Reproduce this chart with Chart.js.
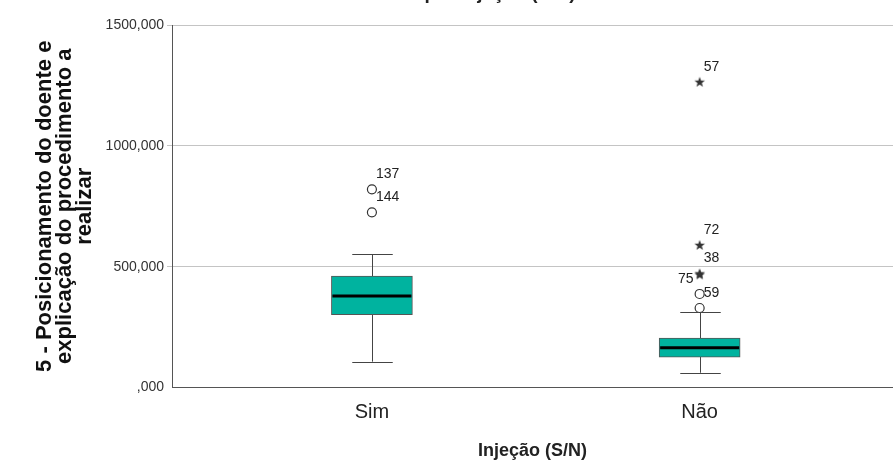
<!DOCTYPE html>
<html>
<head>
<meta charset="utf-8">
<script src="https://cdn.jsdelivr.net/npm/chart.js@4/dist/chart.umd.min.js"></script>
<style>
  html, body { margin: 0; padding: 0; background: #fff; }
</style>
</head>
<body>
<canvas id="myChart" width="893" height="468"></canvas>
<script>
// box plot summary per category
var categories = ['Sim', 'Não'];
var lowerWhisker = [107, 61];
var q1 = [301, 125];
var medians = [379, 165];
var q3 = [461, 204];
var upperWhisker = [552, 314];

// outliers (o) and extremes (*)
var circleCat = [0, 0, 1, 1];
var circleVal = [820, 725, 387, 329];
var circleId = ['137', '144', '', '59'];

var starCat = [1, 1, 1, 1];
var starVal = [1265, 590, 472, 468];
var starId = ['57', '72', '38', '75'];

var yTicks = [0, 500, 1000, 1500];

var yTitle = ['5 - Posicionamento do doente e', 'explicação do procedimento a', 'realizar'];
var xTitle = 'Injeção (S/N)';
var topTitle = 'por Injeção (S/N)';

Chart.defaults.font.family = '"Liberation Sans", Arial, sans-serif';

// small filled star used for the extreme values
function makeStar() {
  var c = document.createElement('canvas');
  c.width = 12; c.height = 12;
  var g = c.getContext('2d');
  g.fillStyle = '#333';
  g.beginPath();
  for (var k = 0; k < 10; k++) {
    var r = k % 2 === 0 ? 5.5 : 2.3;
    var a = -Math.PI / 2 + k * Math.PI / 5;
    var px = 6 + r * Math.cos(a), py = 6.5 + r * Math.sin(a);
    if (k === 0) g.moveTo(px, py); else g.lineTo(px, py);
  }
  g.closePath();
  g.fill();
  return c;
}

var boxParts = {
  id: 'boxParts',
  beforeDatasetsDraw: function(chart) {
    var ctx = chart.ctx, y = chart.scales.y;
    var bars = chart.getDatasetMeta(0).data;
    ctx.save();
    ctx.strokeStyle = '#444';
    ctx.lineWidth = 1;
    bars.forEach(function(bar, i) {
      var cx = Math.round(bar.x) + 0.5;
      var lo = y.getPixelForValue(lowerWhisker[i]);
      var hi = y.getPixelForValue(upperWhisker[i]);
      var cap = bar.width / 4;
      ctx.beginPath();
      ctx.moveTo(cx, lo); ctx.lineTo(cx, hi);
      ctx.moveTo(cx - cap, Math.round(lo) + 0.5); ctx.lineTo(cx + cap, Math.round(lo) + 0.5);
      ctx.moveTo(cx - cap, Math.round(hi) + 0.5); ctx.lineTo(cx + cap, Math.round(hi) + 0.5);
      ctx.stroke();
    });
    ctx.restore();
  },
  afterDatasetsDraw: function(chart) {
    var ctx = chart.ctx, x = chart.scales.x, y = chart.scales.y;
    var bars = chart.getDatasetMeta(0).data;
    ctx.save();
    ctx.strokeStyle = '#000';
    ctx.lineWidth = 3;
    bars.forEach(function(bar, i) {
      var m = y.getPixelForValue(medians[i]);
      ctx.beginPath();
      ctx.moveTo(bar.x - bar.width / 2 + 1, m);
      ctx.lineTo(bar.x + bar.width / 2 - 1, m);
      ctx.stroke();
    });
    // case labels
    ctx.font = '14px "Liberation Sans", Arial, sans-serif';
    ctx.fillStyle = '#222';
    ctx.textBaseline = 'middle';
    function label(cats, vals, ids) {
      var done = [];
      vals.forEach(function(v, i) {
        if (!ids[i]) return;
        var px = x.getPixelForValue(cats[i] + 1);
        var py = y.getPixelForValue(v);
        var clash = done.some(function(d) { return d.c === cats[i] && Math.abs(d.py - py) < 5; });
        if (clash) {
          ctx.textAlign = 'right';
          ctx.fillText(ids[i], px - 6, py + 5);
        } else {
          ctx.textAlign = 'left';
          ctx.fillText(ids[i], px + 4, py - 15);
        }
        done.push({c: cats[i], py: py});
      });
    }
    label(circleCat, circleVal, circleId);
    label(starCat, starVal, starId);
    ctx.restore();
  },
  afterDraw: function(chart) {
    // chart title, cut off at the top edge in the original
    var ctx = chart.ctx;
    ctx.save();
    ctx.font = 'bold 19px "Liberation Sans", Arial, sans-serif';
    ctx.fillStyle = '#222';
    ctx.textAlign = 'center';
    ctx.textBaseline = 'alphabetic';
    ctx.fillText(topTitle, 500, -1);
    ctx.restore();
  }
};

var ctx = document.getElementById('myChart').getContext('2d');
var myChart = new Chart(ctx, {
  type: 'bar',
  data: {
    datasets: [{
      data: categories.map(function(c, i) { return {x: i + 1, y: [q1[i], q3[i]]}; }),
      backgroundColor: '#00b39f',
      borderColor: '#555',
      borderWidth: 1,
      borderSkipped: false,
      barThickness: 81,
      order: 2
    }, {
      type: 'scatter',
      data: circleVal.map(function(v, i) { return {x: circleCat[i] + 1, y: v}; }),
      pointStyle: 'circle',
      pointRadius: 4.5,
      backgroundColor: '#fff',
      borderColor: '#333',
      borderWidth: 1.2,
      order: 1
    }, {
      type: 'scatter',
      data: starVal.map(function(v, i) { return {x: starCat[i] + 1, y: v}; }),
      pointStyle: makeStar(),
      pointRadius: 5,
      order: 1
    }]
  },
  options: {
    responsive: false,
    animation: false,
    devicePixelRatio: 1,
    layout: { autoPadding: false, padding: { top: 25, right: 0, left: 0, bottom: 0 } },
    plugins: { legend: { display: false }, tooltip: { enabled: false } },
    scales: {
      x: {
        type: 'linear',
        offset: false,
        min: 0.39,
        max: 2.59,
        afterBuildTicks: function(s) { s.ticks = [{value: 1}, {value: 2}]; },
        afterFit: function(s) { s.height = 80.5; },
        ticks: {
          callback: function(v) { return categories[v - 1]; },
          font: { size: 20 },
          color: '#222',
          padding: 13,
          autoSkip: false,
          maxRotation: 0
        },
        grid: { display: false, drawTicks: false },
        border: { display: true, color: '#555', width: 1 },
        title: {
          display: true,
          text: xTitle,
          font: { size: 18, weight: 'bold' },
          color: '#222',
          padding: { top: 0, bottom: 6 }
        }
      },
      y: {
        min: 0,
        max: 1500,
        afterBuildTicks: function(s) { s.ticks = yTicks.map(function(v) { return {value: v}; }); },
        afterFit: function(s) { s.width = 172; },
        ticks: {
          callback: function(v) { return v === 0 ? ',000' : v + ',000'; },
          font: { size: 14 },
          color: '#333',
          padding: 3
        },
        grid: {
          color: function(c) { return c.tick && c.tick.value === 0 ? 'rgba(0,0,0,0)' : '#c4c4c4'; },
          tickLength: 5
        },
        border: { color: '#555', width: 1 },
        title: {
          display: true,
          text: yTitle,
          font: { size: 22, weight: 'bold', lineHeight: 0.9 },
          color: '#111',
          padding: { top: 35, bottom: 0 }
        }
      }
    }
  },
  plugins: [boxParts]
});
</script>
</body>
</html>
